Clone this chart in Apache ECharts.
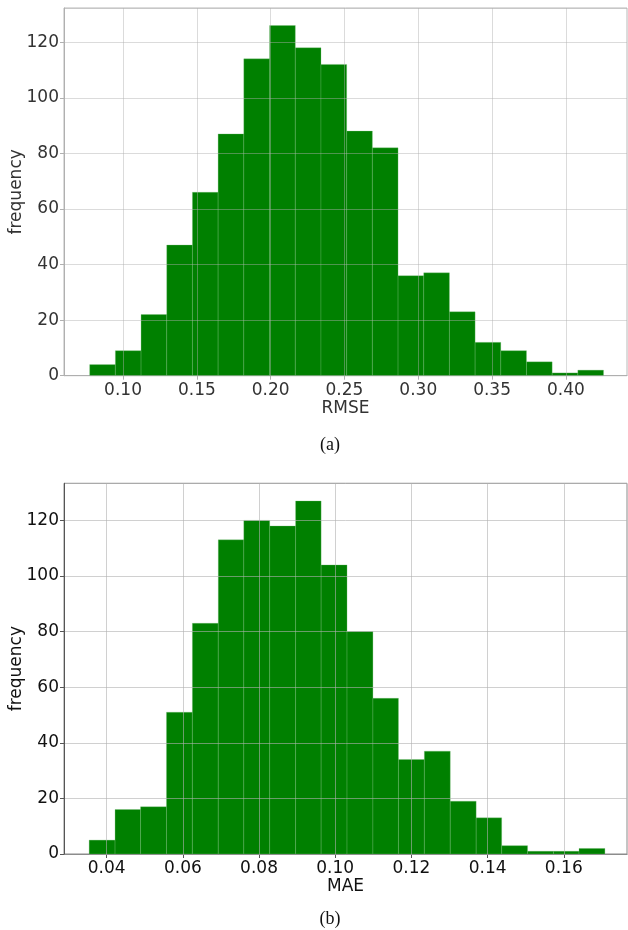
<!DOCTYPE html>
<html>
<head>
<meta charset="utf-8">
<script src="https://cdn.jsdelivr.net/npm/echarts@6/dist/echarts.min.js"></script>
<style>html,body{margin:0;padding:0;background:#fff;}#c{width:628px;height:930px;}</style>
</head>
<body>
<div id="c"></div>
<script>
// ---- data ----
const rmseEdges = [0.0774, 0.0948, 0.1122, 0.1296, 0.1470, 0.1644, 0.1818, 0.1993, 0.2167, 0.2341, 0.2515,
                   0.2689, 0.2863, 0.3037, 0.3211, 0.3385, 0.3559, 0.3733, 0.3907, 0.4081, 0.4255];
const rmseCounts = [4, 9, 22, 47, 66, 87, 114, 126, 118, 112, 88, 82, 36, 37, 23, 12, 9, 5, 1, 2];
const rmseTicks = [0.10, 0.15, 0.20, 0.25, 0.30, 0.35, 0.40];

const maeEdges = [0.0354, 0.0422, 0.0489, 0.0557, 0.0625, 0.0693, 0.0760, 0.0828, 0.0896, 0.0963, 0.1031,
                  0.1099, 0.1166, 0.1234, 0.1302, 0.1370, 0.1437, 0.1505, 0.1573, 0.1640, 0.1708];
const maeCounts = [5, 16, 17, 51, 83, 113, 120, 118, 127, 104, 80, 56, 34, 37, 19, 13, 3, 1, 1, 2];
const maeTicks = [0.04, 0.06, 0.08, 0.10, 0.12, 0.14, 0.16];

function bins(edges, counts) {
  return counts.map((c, i) => [edges[i], edges[i + 1], c]);
}

const chart = echarts.init(document.getElementById('c'), null, {renderer: 'canvas'});
const FONT = 'DejaVu Sans';
const FS = 17;
const green = '#008000';

function renderHist(params, api) {
  const p0 = api.coord([api.value(0), 0]);
  const p1 = api.coord([api.value(1), api.value(2)]);
  return {
    type: 'rect',
    shape: {x: p0[0], y: p1[1], width: p1[0] - p0[0], height: p0[1] - p1[1]},
    style: {fill: green, stroke: 'rgba(120,190,120,0.5)', lineWidth: 0.6}
  };
}

function xAxisCfg(idx, min, max, ticks, decimals, name, txtColor, lineColor) {
  return {
    type: 'value', gridIndex: idx, min: min, max: max,
    name: name, nameLocation: 'middle', nameGap: 23,
    nameTextStyle: {fontFamily: FONT, fontSize: FS, color: txtColor},
    axisLine: {show: true, lineStyle: {color: lineColor, width: 1}},
    axisTick: {show: true, length: 4, customValues: ticks, lineStyle: {color: lineColor}},
    axisLabel: {customValues: ticks, margin: 6, fontFamily: FONT, fontSize: FS, color: txtColor,
                formatter: v => v.toFixed(decimals)},
    splitLine: {show: false}
  };
}
function yAxisCfg(idx, max, txtColor, lineColor, gridColor) {
  return {
    type: 'value', gridIndex: idx, min: 0, max: max, interval: 20, z: 3,
    name: 'frequency', nameLocation: 'middle', nameGap: 39, nameMoveOverlap: false,
    nameTextStyle: {fontFamily: FONT, fontSize: FS, color: txtColor},
    axisLine: {show: true, lineStyle: {color: lineColor, width: 1}},
    axisTick: {show: true, length: 4, lineStyle: {color: lineColor}},
    axisLabel: {margin: 5, fontFamily: FONT, fontSize: FS, color: txtColor,
                showMaxLabel: false},
    splitLine: {show: true, lineStyle: {color: gridColor, width: 1}}
  };
}
function histSeries(idx, data, ticks, gridColor) {
  return {
    type: 'custom', xAxisIndex: idx, yAxisIndex: idx,
    renderItem: renderHist, data: data,
    encode: {x: [0, 1], y: 2},
    z: 2,
    markLine: {
      silent: true, symbol: 'none', z: 4, animation: false,
      label: {show: false},
      lineStyle: {color: gridColor, width: 1, type: 'solid'},
      data: ticks.map(t => ({xAxis: t}))
    }
  };
}

const option = {
  animation: false,
  backgroundColor: '#fff',
  grid: [
    {left: 64, top: 8, width: 563, height: 367.7, outerBoundsMode: 'none', containLabel: false,
     show: true, borderColor: '#b8b8b8', borderWidth: 1, backgroundColor: 'transparent'},
    {left: 64, top: 483.3, width: 563, height: 370.7, outerBoundsMode: 'none', containLabel: false,
     show: true, borderColor: '#8a8a8a', borderWidth: 1, backgroundColor: 'transparent'}
  ],
  xAxis: [
    xAxisCfg(0, 0.0600, 0.4414, rmseTicks, 2, 'RMSE', '#333', '#b0b0b0'),
    xAxisCfg(1, 0.0288, 0.1766, maeTicks, 2, 'MAE', '#111', '#555')
  ],
  yAxis: [
    yAxisCfg(0, 132.3, '#333', '#b0b0b0', 'rgba(176,176,176,0.45)'),
    yAxisCfg(1, 133.35, '#111', '#555', 'rgba(176,176,176,0.6)')
  ],
  series: [
    histSeries(0, bins(rmseEdges, rmseCounts), rmseTicks, 'rgba(176,176,176,0.45)'),
    histSeries(1, bins(maeEdges, maeCounts), maeTicks, 'rgba(176,176,176,0.6)')
  ],
  graphic: [
    {type: 'text', x: 330, y: 445, style: {text: '(a)', fill: '#111', font: '18px "Liberation Serif", serif', textAlign: 'center', textVerticalAlign: 'middle'}},
    {type: 'text', x: 330, y: 919, style: {text: '(b)', fill: '#111', font: '18px "Liberation Serif", serif', textAlign: 'center', textVerticalAlign: 'middle'}}
  ]
};
chart.setOption(option);
</script>
</body>
</html>
